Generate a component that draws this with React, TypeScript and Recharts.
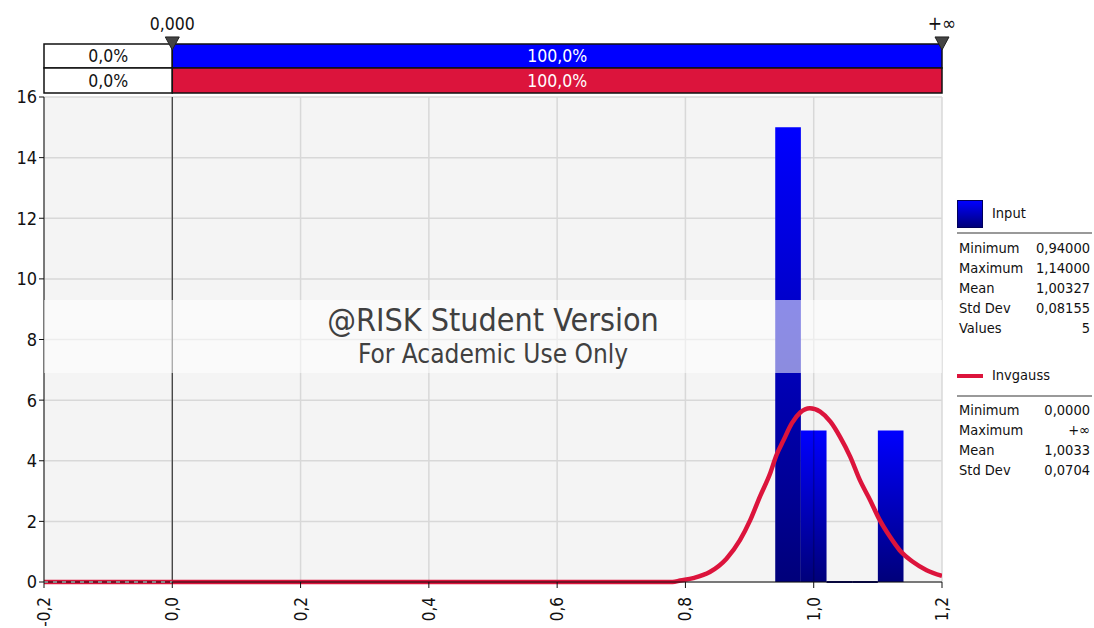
import {
  ComposedChart,
  Line,
  XAxis,
  YAxis,
  CartesianGrid,
  ReferenceArea,
  ReferenceLine,
  ReferenceDot,
} from "recharts";

const FONT = "Tahoma, 'DejaVu Sans Condensed', 'DejaVu Sans', sans-serif";

// histogram (Input)
const binEdges = [0.94, 0.98, 1.02, 1.06, 1.1, 1.14];
const binValues = [15, 5, 0, 0, 5];

// fitted Invgauss density
const curveX = [
  0, 0.78, 0.792, 0.812, 0.838, 0.864, 0.885, 0.901, 0.916, 0.932, 0.942, 0.953, 0.966,
  0.979, 0.994, 1.01, 1.026, 1.041, 1.057, 1.072, 1.088, 1.103, 1.119, 1.134, 1.155, 1.176,
  1.2,
];
const curveY = [
  0, 0, 0.05, 0.13, 0.33, 0.77, 1.38, 2.04, 2.81, 3.58, 4.19, 4.68, 5.24, 5.59, 5.73, 5.62,
  5.29, 4.79, 4.13, 3.36, 2.7, 2.04, 1.49, 1.05, 0.66, 0.39, 0.2,
];
const tailX = [-0.2, 0];
const tailY = [0, 0];

const xTicks = [-0.2, 0, 0.2, 0.4, 0.6, 0.8, 1.0, 1.2];
const yTicks = [0, 2, 4, 6, 8, 10, 12, 14, 16];

// top strips: left/right marker positions and percentages
const markerLeft = 0;
const markerRight = 1.2;
const markerLabels = ["0,000", "+∞"];
const inputPct = ["0,0%", "100,0%"];
const fitPct = ["0,0%", "100,0%"];

const inputStats: [string, string][] = [
  ["Minimum", "0,94000"],
  ["Maximum", "1,14000"],
  ["Mean", "1,00327"],
  ["Std Dev", "0,08155"],
  ["Values", "5"],
];
const fitStats: [string, string][] = [
  ["Minimum", "0,0000"],
  ["Maximum", "+∞"],
  ["Mean", "1,0033"],
  ["Std Dev", "0,0704"],
];

const curveData = curveX.map((x, i) => ({ x, y: curveY[i] }));
const tailData = tailX.map((x, i) => ({ x, y: tailY[i] }));

const fmt = (v: number) => v.toFixed(1).replace(".", ",");

const XTick = (props: any) => {
  const { x, y, payload } = props;
  return (
    <text
      x={0}
      y={0}
      transform={`translate(${x + 6},${y + 7}) rotate(-90)`}
      textAnchor="end"
      fontSize={17}
      fontFamily={FONT}
      fill="#111"
    >
      {fmt(payload.value)}
    </text>
  );
};

const Marker = (props: any) => {
  const { cx, cy } = props;
  return (
    <polygon
      points={`${cx - 7},${cy - 7} ${cx + 7},${cy - 7} ${cx},${cy + 6}`}
      fill="#444"
      stroke="#222"
      strokeWidth={1}
    />
  );
};

function StatRows({ rows, top }: { rows: [string, string][]; top: number }) {
  return (
    <>
      {rows.map(([k, v], i) => (
        <div
          key={k}
          style={{
            position: "absolute",
            left: 959,
            width: 131,
            top: top + i * 20,
            height: 20,
            display: "flex",
            justifyContent: "space-between",
            fontSize: 14.5,
            lineHeight: "20px",
            color: "#111",
          }}
        >
          <span>{k}</span>
          <span>{v}</span>
        </div>
      ))}
    </>
  );
}

export default function App() {
  const stripTop1 = 17.75;
  const stripMid = 16.96;
  const stripBot = 16.13;
  const hdrLabel = (value: string, fill: string) => ({
    value,
    position: "center" as const,
    fill,
    fontSize: 17.5,
    fontFamily: FONT,
  });
  return (
    <div
      style={{
        position: "absolute",
        left: 0,
        top: 0,
        width: 1094,
        height: 628,
        background: "#fff",
        fontFamily: FONT,
      }}
    >
      <ComposedChart
        width={1094}
        height={628}
        margin={{ top: 97, right: 152, bottom: 0, left: 0 }}
      >
        <defs>
          <linearGradient id="barGrad" x1="0" y1="0" x2="0" y2="1">
            <stop offset="0%" stopColor="#0000ff" />
            <stop offset="100%" stopColor="#00007a" />
          </linearGradient>
        </defs>
        <CartesianGrid stroke="#d8d8d8" strokeWidth={1.5} fill="#f4f4f4" />
        <XAxis
          dataKey="x"
          type="number"
          domain={[-0.2, 1.2]}
          ticks={xTicks}
          allowDataOverflow
          height={46}
          stroke="#111"
          tickSize={6}
          tick={<XTick />}
        />
        <YAxis
          type="number"
          domain={[0, 16]}
          ticks={yTicks}
          width={44}
          stroke="#111"
          tickSize={5}
          tick={{ fontSize: 18, fill: "#111", fontFamily: FONT }}
        />

        {binValues.map((v, i) =>
          v > 0 ? (
            <ReferenceArea
              key={`bin-${i}`}
              x1={binEdges[i]}
              x2={binEdges[i + 1]}
              y1={0}
              y2={v}
              fill="url(#barGrad)"
              fillOpacity={1}
              stroke="none"
            />
          ) : (
            <ReferenceLine
              key={`bin-${i}`}
              segment={[
                { x: binEdges[i], y: 0 },
                { x: binEdges[i + 1], y: 0 },
              ]}
              stroke="#00006a"
              strokeWidth={2}
            />
          )
        )}
        {/* grid line showing through the second bar */}
        <ReferenceLine
          segment={[
            { x: 1.0, y: 0 },
            { x: 1.0, y: binValues[1] },
          ]}
          stroke="rgba(0,0,0,0.22)"
          strokeWidth={1.5}
        />

        {/* header strips */}
        <ReferenceArea
          x1={-0.2}
          x2={markerLeft}
          y1={stripMid}
          y2={stripTop1}
          ifOverflow="visible"
          fill="#fff"
          fillOpacity={1}
          stroke="#111"
          strokeWidth={1.5}
          label={hdrLabel(inputPct[0], "#111")}
        />
        <ReferenceArea
          x1={markerLeft}
          x2={markerRight}
          y1={stripMid}
          y2={stripTop1}
          ifOverflow="visible"
          fill="#0000ff"
          fillOpacity={1}
          stroke="#111"
          strokeWidth={1.5}
          label={hdrLabel(inputPct[1], "#fff")}
        />
        <ReferenceArea
          x1={-0.2}
          x2={markerLeft}
          y1={stripBot}
          y2={stripMid}
          ifOverflow="visible"
          fill="#fff"
          fillOpacity={1}
          stroke="#111"
          strokeWidth={1.5}
          label={hdrLabel(fitPct[0], "#111")}
        />
        <ReferenceArea
          x1={markerLeft}
          x2={markerRight}
          y1={stripBot}
          y2={stripMid}
          ifOverflow="visible"
          fill="#dc143c"
          fillOpacity={1}
          stroke="#111"
          strokeWidth={1.5}
          label={hdrLabel(fitPct[1], "#fff")}
        />
        <ReferenceLine x={markerLeft} stroke="#333" strokeWidth={1.2} />

        <Line
          data={tailData}
          dataKey="y"
          type="linear"
          stroke="#dc143c"
          strokeWidth={4.5}
          dot={false}
          isAnimationActive={false}
        />
        <Line
          data={tailData}
          dataKey="y"
          type="linear"
          stroke="#ffffff"
          strokeWidth={2}
          strokeDasharray="4 5"
          dot={false}
          isAnimationActive={false}
        />
        <Line
          data={curveData}
          dataKey="y"
          type="monotone"
          stroke="#dc143c"
          strokeWidth={4.5}
          dot={false}
          isAnimationActive={false}
        />

        <ReferenceDot
          x={markerLeft}
          y={stripTop1}
          ifOverflow="visible"
          shape={<Marker />}
          label={{ value: markerLabels[0], position: "top", offset: 4, fill: "#111", fontSize: 17.5, fontFamily: FONT }}
        />
        <ReferenceDot
          x={markerRight}
          y={stripTop1}
          ifOverflow="visible"
          shape={<Marker />}
          label={{ value: markerLabels[1], position: "top", offset: 4, fill: "#111", fontSize: 19, fontFamily: FONT }}
        />
      </ComposedChart>

      {/* watermark */}
      <div
        style={{
          position: "absolute",
          left: 44,
          top: 300,
          width: 898,
          height: 73,
          background: "rgba(255,255,255,0.55)",
          textAlign: "center",
          color: "#404040",
        }}
      >
        <div style={{ fontSize: 32, lineHeight: "40px" }}>@RISK Student Version</div>
        <div style={{ fontSize: 26, lineHeight: "28px" }}>For Academic Use Only</div>
      </div>

      {/* legend */}
      <div
        style={{
          position: "absolute",
          left: 957,
          top: 200,
          width: 24,
          height: 26,
          border: "1px solid #00005a",
          background: "linear-gradient(#0000ff, #00007a)",
        }}
      />
      <div style={{ position: "absolute", left: 992, top: 205, fontSize: 14.5, color: "#111" }}>Input</div>
      <div style={{ position: "absolute", left: 957, top: 232, width: 135, height: 2, background: "#999" }} />
      <StatRows rows={inputStats} top={238} />

      <div style={{ position: "absolute", left: 957, top: 374, width: 26, height: 4, background: "#dc143c" }} />
      <div style={{ position: "absolute", left: 992, top: 367, fontSize: 14.5, color: "#111" }}>Invgauss</div>
      <div style={{ position: "absolute", left: 957, top: 395, width: 135, height: 2, background: "#999" }} />
      <StatRows rows={fitStats} top={400} />
    </div>
  );
}
